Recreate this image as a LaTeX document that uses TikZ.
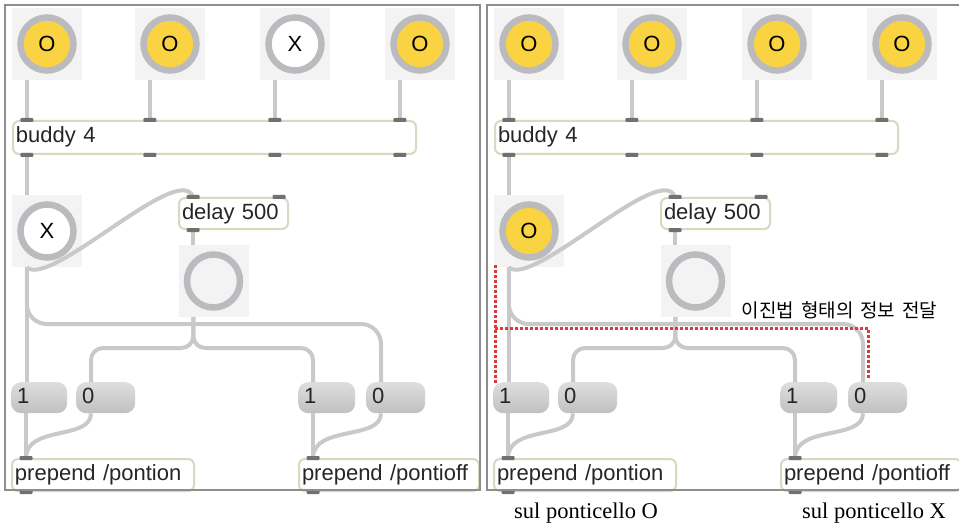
\documentclass[tikz,border=0pt]{standalone}
\usepackage{fontspec}
\setmainfont{Liberation Serif}
\newfontfamily\maxfont{Liberation Sans}
\newfontfamily\krfont[WordSpace=1.6]{Noto Sans CJK KR}
\usetikzlibrary{calc}

\definecolor{togyellow}{HTML}{F9D342}
\definecolor{ringgray}{HTML}{BBBBBF}
\definecolor{bggray}{HTML}{F3F3F3}
\definecolor{cablegray}{HTML}{C9C9C9}
\definecolor{boxedge}{HTML}{D6DABF}
\definecolor{portgray}{HTML}{707070}
\definecolor{msgtop}{HTML}{DEDEDE}
\definecolor{msgbot}{HTML}{C0C0C0}
\definecolor{inkgray}{HTML}{262626}
\definecolor{panelgray}{HTML}{8E8E8E}
\definecolor{notered}{HTML}{D93A3A}

\tikzset{
  maxtext/.style={font=\maxfont\fontsize{22}{24}\selectfont, text=inkgray},
  tog/.style={rectangle, fill=bggray, minimum width=70pt, minimum height=72pt,
    inner sep=0pt, font=\maxfont\fontsize{22}{24}\selectfont, text=black,
    path picture={
      \fill[#1] (path picture bounding box.center) circle (26.5pt);
      \draw[ringgray, line width=6.5pt] (path picture bounding box.center) circle (26.5pt);}},
  obj/.style={maxtext, anchor=north west, draw=boxedge, line width=2pt, fill=white,
    rounded corners=6pt, inner xsep=3pt, inner ysep=0pt, minimum height=32pt,
    text height=15pt, text depth=4pt, align=left},
  msg/.style={maxtext, anchor=north west, rounded corners=10pt, top color=msgtop,
    bottom color=msgbot, inner xsep=6pt, inner ysep=0pt, minimum height=31pt,
    text height=15pt, text depth=4pt, align=left},
  cable/.style={draw=cablegray, line width=4pt},
  panel/.style={draw=panelgray, line width=2pt},
  reddots/.style={draw=notered, line width=3pt, dash pattern=on 2.5pt off 2.5pt},
  caption/.style={font=\fontsize{22.5}{26}\selectfont, text=black, anchor=base, inner sep=0pt},
  notelabel/.style={font=\krfont\fontsize{19}{22}\selectfont, text=black, inner sep=0pt}
}

% small dark inlet/outlet mark centred on a named point
\newcommand\portmark[1]{%
  \fill[portgray, rounded corners=1pt] ([xshift=-6.5pt,yshift=-2pt]#1) rectangle ([xshift=6.5pt,yshift=2pt]#1);}

% one Max patch: #1 scope options, #2/#3 fill and label of the third toggle,
% #4/#5 fill and label of the toggle under buddy
\newcommand\maxpatch[5]{%
\begin{scope}[#1]
  % toggles on top
  \node[tog=togyellow] (t1) at (47,44) {O};
  \node[tog=togyellow] (t2) at (170,44) {O};
  \node[tog=#2] (t3) at (295,44) {#3};
  \node[tog=togyellow] (t4) at (420,44) {O};
  % objects
  \node[obj, minimum height=33pt, text width=397pt] (bud) at (12,120) {buddy 4};
  \node[tog=#4] (sw) at (47,231) {#5};
  \node[obj, minimum height=31pt, text width=103pt] (del) at (178,197) {delay 500};
  \node[tog=bggray] (bng) at (213.5,281) {};
  \node[msg, text width=44pt] (m1) at (11,382) {1};
  \node[msg, text width=47pt] (m0) at (76,382) {0};
  \node[msg, text width=45pt] (n1) at (298,382) {1};
  \node[msg, text width=47pt] (n0) at (366,382) {0};
  \node[obj, text width=176pt] (pon) at (11,458) {prepend /pontion};
  \node[obj, text width=174pt] (poff) at (298,458) {prepend /pontioff};
  % outlet / inlet points
  \coordinate (o1) at ([xshift=15pt]t1.south west);
  \coordinate (o2) at ([xshift=15pt]t2.south west);
  \coordinate (o3) at ([xshift=15pt]t3.south west);
  \coordinate (o4) at ([xshift=15pt]t4.south west);
  \coordinate (swo) at ([xshift=15pt]sw.south west);
  \coordinate (dli) at ([xshift=15pt]del.north west);
  \coordinate (dlr) at ([xshift=-10pt]del.north east);
  \coordinate (dlo) at ([xshift=15pt]del.south west);
  \coordinate (bo) at ([xshift=15pt]bng.south west);
  \coordinate (m1i) at ([xshift=15pt]m1.north west);
  \coordinate (m1o) at ([xshift=15pt]m1.south west);
  \coordinate (m0i) at ([xshift=15pt]m0.north west);
  \coordinate (m0o) at ([xshift=15pt]m0.south west);
  \coordinate (n1i) at ([xshift=15pt]n1.north west);
  \coordinate (n1o) at ([xshift=15pt]n1.south west);
  \coordinate (n0i) at ([xshift=15pt]n0.north west);
  \coordinate (n0o) at ([xshift=15pt]n0.south west);
  \coordinate (poni) at ([xshift=15pt]pon.north west);
  \coordinate (pono) at ([xshift=15pt]pon.south west);
  \coordinate (poffi) at ([xshift=15pt]poff.north west);
  \coordinate (poffo) at ([xshift=15pt]poff.south west);
  \coordinate (busA) at (0,324);
  \coordinate (busB) at (0,348);
  % patch cords
  \draw[cable] (o1) -- (o1 |- bud.north);
  \draw[cable] (o2) -- (o2 |- bud.north);
  \draw[cable] (o3) -- (o3 |- bud.north);
  \draw[cable] (o4) -- (o4 |- bud.north);
  \draw[cable] (o1 |- bud.south) -- (o1 |- sw.north);
  \draw[cable] (swo) .. controls +(23,22) and +(-13,-37) .. (dli);
  \draw[cable] (dlo) -- (dlo |- bng.north);
  \draw[cable] (swo) -- (swo |- m1.north);
  \draw[cable, rounded corners=20pt] (swo) |- (busA -| n0i) -- (n0i);
  \draw[cable, rounded corners=12pt] (bo) |- (busB -| m0i) -- (m0i);
  \draw[cable, rounded corners=12pt] (bo) |- (busB -| n1i) -- (n1i);
  \draw[cable] (m1o) -- (poni);
  \draw[cable] (m0o) .. controls +(0,27) and +(0,-33) .. (poni);
  \draw[cable] (n1o) -- (poffi);
  \draw[cable] (n0o) .. controls +(0,27) and +(0,-33) .. (poffi);
  % inlet and outlet marks
  \portmark{o1 |- bud.north}\portmark{o2 |- bud.north}
  \portmark{o3 |- bud.north}\portmark{o4 |- bud.north}
  \portmark{o1 |- bud.south}\portmark{o2 |- bud.south}
  \portmark{o3 |- bud.south}\portmark{o4 |- bud.south}
  \portmark{dli}\portmark{dlr}\portmark{dlo}
  \portmark{poni}\portmark{pono}\portmark{poffi}\portmark{poffo}
\end{scope}}

\begin{document}
\begin{tikzpicture}[x=1pt, y=-1pt]
  \useasboundingbox (0,0) rectangle (959,524);
  \clip (0,0) rectangle (959,524);
  \fill[white] (0,0) rectangle (959,524);

  \maxpatch{name prefix=L-}{white}{X}{white}{X}
  \maxpatch{name prefix=R-, xshift=482pt}{togyellow}{O}{togyellow}{O}

  % window frames
  \draw[panel] (5,5) rectangle (480,490);
  \draw[panel] (487,5) rectangle (970,490);

  % annotation: dotted path of the binary signal
  \coordinate (ra) at (495,265);
  \coordinate (rb) at (495,383);
  \coordinate (rc) at (495,328);
  \coordinate (rd) at (868,328);
  \coordinate (re) at (868,378);
  \draw[reddots] (ra) -- (rb);
  \draw[reddots] (rc) -- (rd) -- (re);
  \node[notelabel] (note) at (839.5,310) {이진법 형태의 정보 전달};

  \node[caption] (capon) at (586,518) {sul ponticello O};
  \node[caption] (capoff) at (874,518) {sul ponticello X};
\end{tikzpicture}
\end{document}
